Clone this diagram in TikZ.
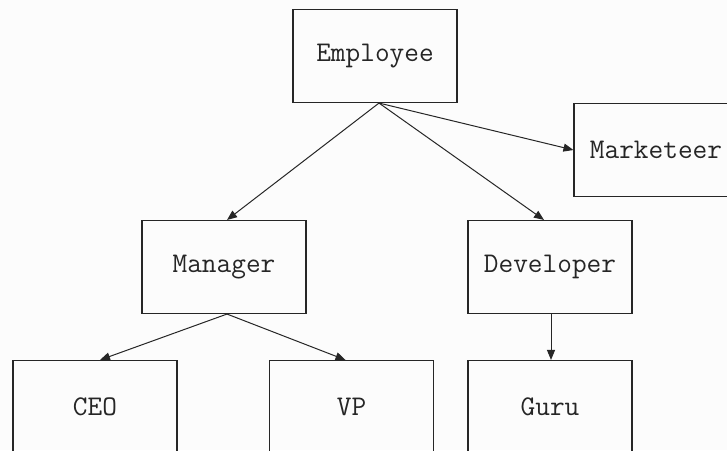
\documentclass[tikz,border=0pt]{standalone}
\usepackage{fontspec}
\usetikzlibrary{arrows.meta}
\begin{document}
\begin{tikzpicture}[x=1pt,y=-1pt,
  box/.style={draw=black!85, line width=1.1pt, fill=none, minimum width=164pt, minimum height=93pt, inner sep=0pt, font=\ttfamily\fontsize{28.5}{32}\selectfont, text=black!85},
  link/.style={draw=black!85, line width=1pt, -{Triangle[length=10pt,width=8pt]}}]
\useasboundingbox (0,0) rectangle (727,450);
\fill[white!99!black] (0,0) rectangle (727,450);
\clip (0,0) rectangle (727,450);
\node[box] (emp) at (375,56) {Employee};
\node[box] (mkt) at (656,150) {Marketeer};
\node[box] (mgr) at (224,267) {Manager};
\node[box] (dev) at (550,267) {Developer};
\node[box] (ceo) at (95,407) {CEO};
\node[box] (vp) at (351.5,407) {VP};
\node[box] (guru) at (550,407) {Guru};
\coordinate (es) at ([xshift=4pt]emp.south);
\coordinate (ms) at ([xshift=3pt]mgr.south);
\draw[link] (es) -- ([xshift=3pt]mgr.north);
\draw[link] (es) -- ([xshift=-6pt]dev.north);
\draw[link] (es) -- (mkt.west);
\draw[link] (ms) -- ([xshift=5pt]ceo.north);
\draw[link] (ms) -- ([xshift=-6pt]vp.north);
\draw[link] ([xshift=1pt]dev.south) -- ([xshift=1pt]guru.north);
\end{tikzpicture}
\end{document}
